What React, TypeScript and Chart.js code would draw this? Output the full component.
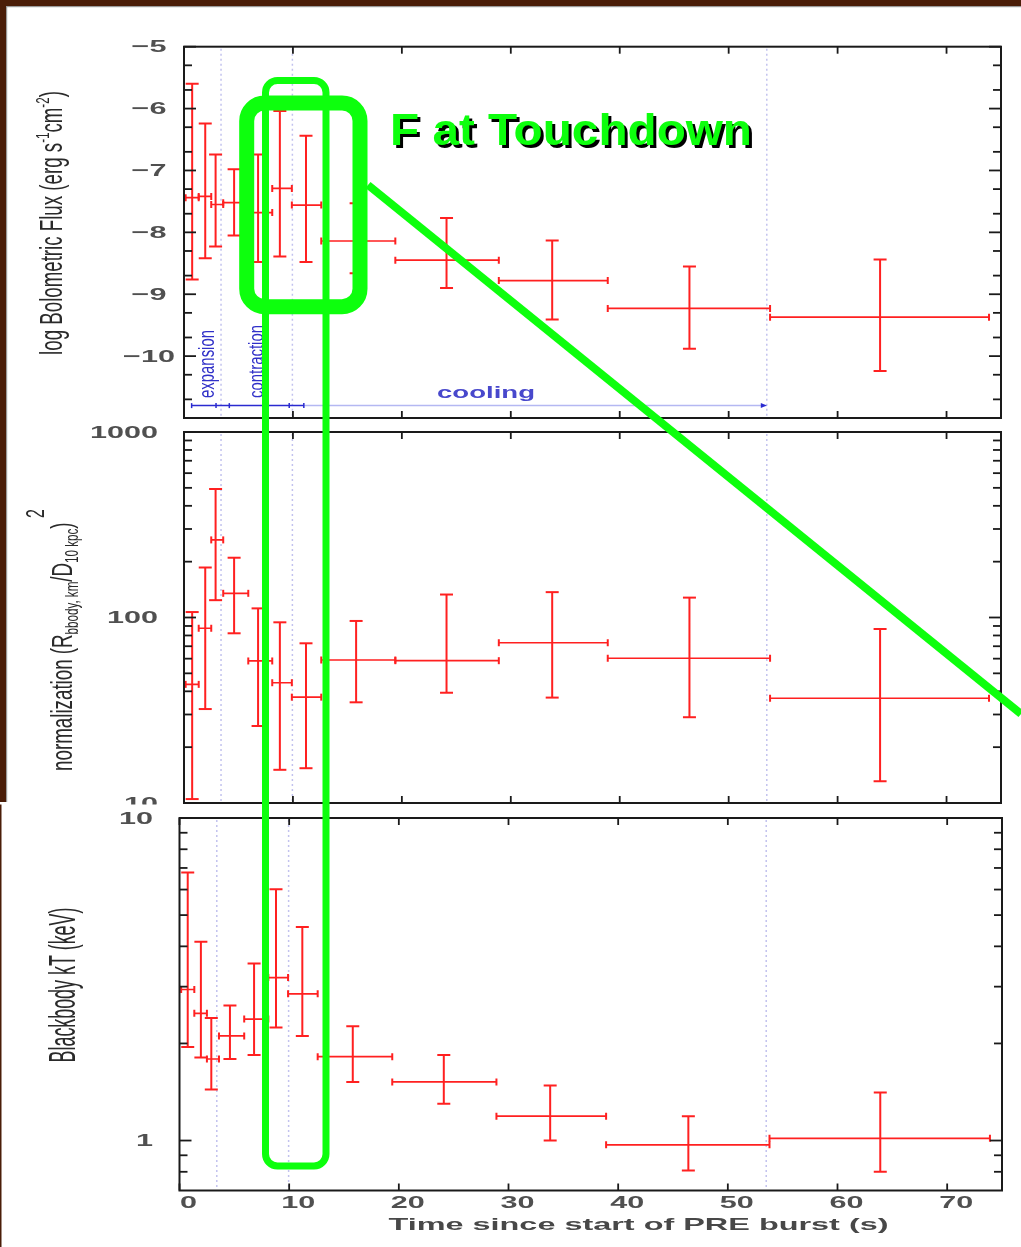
import React, { useEffect, useRef } from 'react';
import { Chart, registerables } from 'chart.js';

Chart.register(...registerables);

// ---------------- data ----------------
const timeMid = [0.75, 1.95, 2.9, 4.6, 6.8, 8.8, 11.2, 15.8, 24.1, 33.8, 46.4, 63.9];
const timeLo = [0.15, 1.35, 2.5, 3.6, 5.9, 8.1, 9.9, 12.6, 19.4, 28.9, 38.9, 53.8];
const timeHi = [1.35, 2.5, 3.6, 5.9, 8.1, 9.9, 12.6, 19.4, 28.9, 38.9, 53.8, 73.9];

const logFlux = [-7.44, -7.42, -7.55, -7.52, -7.68, -7.29, -7.56, -8.14, -8.45, -8.78, -9.23, -9.37];
const logFluxHigh = [-5.6, -6.24, -6.74, -6.98, -6.74, -6.04, -6.44, -7.53, -7.77, -8.13, -8.55, -8.44];
const logFluxLow = [-8.76, -8.42, -8.23, -8.05, -8.48, -8.39, -8.48, -8.66, -8.9, -9.41, -9.88, -10.24];

const norm = [43.6, 87.5, 262, 135, 58.3, 44.5, 37.2, 59, 58.5, 73.1, 60.3, 36.7];
const normHigh = [107, 186, 493, 210, 112, 94.2, 72.6, 95.8, 133, 137, 128, 86.7];
const normLow = [10.5, 32.1, 124, 82.2, 26.0, 15.1, 15.4, 34.9, 39.3, 37.0, 29.0, 13.1];

const kT = [2.94, 2.48, 1.79, 2.11, 2.38, 3.2, 2.85, 1.82, 1.52, 1.19, 0.97, 1.016];
const kTHigh = [6.78, 4.13, 2.4, 2.62, 3.54, 6.01, 4.59, 2.26, 1.84, 1.48, 1.19, 1.41];
const kTLow = [1.95, 1.81, 1.44, 1.79, 1.84, 2.24, 2.11, 1.52, 1.3, 1.0, 0.807, 0.8];

const phaseBoundaries = [3.4, 9.95, 53.5];
const phaseArrowTimes = [0.7, 2.94, 4.16, 9.66, 11.0, 53.5];
const phaseArrowLevel = -10.8;
const phaseLabels = ['expansion', 'contraction', 'cooling'];

const timeTicks = [0, 10, 20, 30, 40, 50, 60, 70];
const timeTickLabels = ['0', '10', '20', '30', '40', '50', '60', '70'];
const fluxTicks = [-5, -6, -7, -8, -9, -10];
const fluxTickLabels = ['\u22125', '\u22126', '\u22127', '\u22128', '\u22129', '\u221210'];
const normTicks = [10, 100, 1000];
const normTickLabels = ['10', '100', '1000'];
const kTTicks = [1, 10];
const kTTickLabels = ['1', '10'];

const xTitle = 'Time since start of PRE burst (s)';
const calloutText = 'F at Touchdown';

// ---------------- layout & style ----------------
const W = 1021;
const H = 1247;
const RED = '#ff2020';
const BROWN = '#4a1d08';
const GREEN = '#0dff0d';
const BLUE = '#2a2ad0';
const FAMILY = '"Liberation Sans", Arial, sans-serif';

type Seg = { t: string; k?: 'sup' | 'sub'; s?: number; dy?: number };

type PanelDef = {
  key: 'flux' | 'norm' | 'kT';
  area: { left: number; top: number; right: number; bottom: number };
  yType: 'linear' | 'logarithmic';
  yMin: number;
  yMax: number;
  value: number[];
  high: number[];
  low: number[];
  ticks: number[];
  tickLabels: string[];
  minor: number[];
  labelX: number;
  labelAlign: CanvasTextAlign;
  title: Seg[];
  titleBaseX: number;
  titleCenterY: number;
  titleLength: number;
  titleCap: number;
  xLabels: boolean;
};

const fluxMinor: number[] = [];
for (let m = -5; m >= -11; m--) {
  [Math.log10(0.5), Math.log10(0.2)].forEach((d) => {
    const v = m + d;
    if (v > -11) fluxMinor.push(v);
  });
}
const normMinor: number[] = [];
[10, 100].forEach((d) => {
  for (let k = 2; k <= 9; k++) normMinor.push(k * d);
});
const kTMinor: number[] = [0.8, 0.9];
for (let k = 2; k <= 9; k++) kTMinor.push(k);

const PANELS: PanelDef[] = [
  {
    key: 'flux',
    area: { left: 184, top: 46.7, right: 1001, bottom: 418 },
    yType: 'linear',
    yMin: -11,
    yMax: -5,
    value: logFlux,
    high: logFluxHigh,
    low: logFluxLow,
    ticks: fluxTicks,
    tickLabels: fluxTickLabels,
    minor: fluxMinor,
    labelX: 149,
    labelAlign: 'center',
    title: [{ t: 'log Bolometric Flux (erg s' }, { t: '-1', k: 'sup' }, { t: 'cm' }, { t: '-2', k: 'sup' }, { t: ')' }],
    titleBaseX: 62,
    titleCenterY: 223,
    titleLength: 264,
    titleCap: 22,
    xLabels: false,
  },
  {
    key: 'norm',
    area: { left: 184, top: 432, right: 1001, bottom: 803 },
    yType: 'logarithmic',
    yMin: 10,
    yMax: 1000,
    value: norm,
    high: normHigh,
    low: normLow,
    ticks: normTicks,
    tickLabels: normTickLabels,
    minor: normMinor,
    labelX: 158,
    labelAlign: 'right',
    title: [
      { t: 'normalization (R' },
      { t: 'bbody, km', k: 'sub' },
      { t: '/D' },
      { t: '10 kpc', k: 'sub' },
      { t: ')' },
      { t: ' 2', k: 'sup', s: 0.85, dy: -0.95 },
    ],
    titleBaseX: 72,
    titleCenterY: 640,
    titleLength: 262,
    titleCap: 21,
    xLabels: false,
  },
  {
    key: 'kT',
    area: { left: 179.5, top: 818, right: 1002, bottom: 1190.5 },
    yType: 'logarithmic',
    yMin: 0.7,
    yMax: 10,
    value: kT,
    high: kTHigh,
    low: kTLow,
    ticks: kTTicks,
    tickLabels: kTTickLabels,
    minor: kTMinor,
    labelX: 153,
    labelAlign: 'right',
    title: [{ t: 'Blackbody kT (keV)' }],
    titleBaseX: 75,
    titleCenterY: 985,
    titleLength: 155,
    titleCap: 26,
    xLabels: true,
  },
];

const OVERLAY = {
  tallBox: { x1: 265.5, y1: 80.5, x2: 326, y2: 1166, r: 12, w: 7 },
  thickBox: { x1: 246.7, y1: 103, x2: 360, y2: 306.7, r: 18, w: 15 },
  line: { x1: 368, y1: 185, x2: 1021, y2: 714, w: 8 },
  label: { x: 390, y: 145, width: 362, size: 45 },
};

const TEXT_POS = {
  tickSize: 17,
  tickSx: 1.8,
  tickColor: '#505050',
  xLabelY: 1203,
  xLabelDx: 9,
  xTitle: { cx: 638.5, y: 1230, size: 17, width: 500 },
  expansion: { x: 214, cy: 364, len: 68, sx: 1.45 },
  contraction: { x: 263, cy: 361.5, len: 73, sx: 1.35 },
  cooling: { cx: 486, y: 398, size: 17, width: 98 },
};

// ---------------- text helpers ----------------
function drawStretched(
  ctx: CanvasRenderingContext2D,
  text: string,
  x: number,
  y: number,
  font: string,
  sx: number,
  color: string,
  align: CanvasTextAlign,
  baseline: CanvasTextBaseline
) {
  ctx.save();
  ctx.font = font;
  ctx.fillStyle = color;
  ctx.textAlign = align;
  ctx.textBaseline = baseline;
  ctx.translate(x, y);
  ctx.scale(sx, 1);
  ctx.fillText(text, 0, 0);
  ctx.restore();
}

function fitSx(ctx: CanvasRenderingContext2D, text: string, font: string, width: number) {
  ctx.save();
  ctx.font = font;
  const w = ctx.measureText(text).width;
  ctx.restore();
  return width / w;
}

function drawRotatedRich(
  ctx: CanvasRenderingContext2D,
  segs: Seg[],
  baseX: number,
  centerY: number,
  length: number,
  cap: number | null,
  sxFixed: number | null,
  color: string
) {
  ctx.save();
  const scaleOf = (g: Seg) => (g.s !== undefined ? g.s : g.k ? 0.62 : 1);
  const measure = (size: number) =>
    segs.reduce((acc, g) => {
      ctx.font = `${size * scaleOf(g)}px ${FAMILY}`;
      return acc + ctx.measureText(g.t).width;
    }, 0);
  const size = (20 * length) / measure(20);
  const total = measure(size);
  const sx = sxFixed !== null ? sxFixed : (cap as number) / (0.716 * size);
  ctx.translate(baseX, centerY);
  ctx.scale(sx, 1);
  ctx.rotate(-Math.PI / 2);
  ctx.fillStyle = color;
  ctx.textAlign = 'left';
  ctx.textBaseline = 'alphabetic';
  let x = -total / 2;
  for (const g of segs) {
    ctx.font = `${size * scaleOf(g)}px ${FAMILY}`;
    const dy = g.dy !== undefined ? g.dy * size : g.k === 'sup' ? -0.42 * size : g.k === 'sub' ? 0.2 * size : 0;
    ctx.fillText(g.t, x, dy);
    x += ctx.measureText(g.t).width;
  }
  ctx.restore();
}

function line(ctx: CanvasRenderingContext2D, x1: number, y1: number, x2: number, y2: number) {
  ctx.beginPath();
  ctx.moveTo(x1, y1);
  ctx.lineTo(x2, y2);
  ctx.stroke();
}

// ---------------- drawing plugins ----------------
function drawPhaseAnnotations(chart: any) {
  const ctx: CanvasRenderingContext2D = chart.ctx;
  const xs = chart.scales.x;
  const ys = chart.scales.y;
  const py = ys.getPixelForValue(phaseArrowLevel);
  const px = phaseArrowTimes.map((t) => xs.getPixelForValue(t));
  ctx.save();
  ctx.lineWidth = 1.5;
  ctx.strokeStyle = '#b4b8f2';
  line(ctx, px[4], py, px[5], py);
  ctx.strokeStyle = BLUE;
  line(ctx, px[0], py, px[4], py);
  ctx.lineWidth = 1.5;
  for (let i = 0; i < 5; i++) line(ctx, px[i], py - 2.5, px[i], py + 2.5);
  ctx.fillStyle = BLUE;
  ctx.beginPath();
  ctx.moveTo(px[5] - 6, py - 2.5);
  ctx.lineTo(px[5], py);
  ctx.lineTo(px[5] - 6, py + 2.5);
  ctx.closePath();
  ctx.fill();
  ctx.restore();

  const e = TEXT_POS.expansion;
  drawRotatedRich(ctx, [{ t: phaseLabels[0] }], e.x, e.cy, e.len, null, e.sx, '#3030c8');
  const c = TEXT_POS.contraction;
  drawRotatedRich(ctx, [{ t: phaseLabels[1] }], c.x, c.cy, c.len, null, c.sx, '#3030c8');
  const co = TEXT_POS.cooling;
  const f = `bold ${co.size}px ${FAMILY}`;
  drawStretched(ctx, phaseLabels[2], co.cx, co.y, f, fitSx(ctx, phaseLabels[2], f, co.width), '#4848cc', 'center', 'alphabetic');
}

function drawOverlay(ctx: CanvasRenderingContext2D) {
  ctx.save();
  ctx.strokeStyle = GREEN;
  const tb = OVERLAY.tallBox;
  ctx.lineWidth = tb.w;
  ctx.beginPath();
  (ctx as any).roundRect(tb.x1, tb.y1, tb.x2 - tb.x1, tb.y2 - tb.y1, tb.r);
  ctx.stroke();
  const kb = OVERLAY.thickBox;
  ctx.lineWidth = kb.w;
  ctx.beginPath();
  (ctx as any).roundRect(kb.x1, kb.y1, kb.x2 - kb.x1, kb.y2 - kb.y1, kb.r);
  ctx.stroke();
  const ln = OVERLAY.line;
  ctx.lineWidth = ln.w;
  line(ctx, ln.x1, ln.y1, ln.x2, ln.y2);
  ctx.restore();

  const lb = OVERLAY.label;
  const font = `bold ${lb.size}px ${FAMILY}`;
  const sx = fitSx(ctx, calloutText, font, lb.width);
  drawStretched(ctx, calloutText, lb.x + 3, lb.y + 3, font, sx, '#000000', 'left', 'alphabetic');
  drawStretched(ctx, calloutText, lb.x, lb.y, font, sx, GREEN, 'left', 'alphabetic');
}

function makePlugin(p: PanelDef) {
  return {
    id: 'decor_' + p.key,
    beforeDraw(chart: any) {
      const ctx: CanvasRenderingContext2D = chart.ctx;
      const { top, bottom } = chart.chartArea;
      const xs = chart.scales.x;
      ctx.save();
      if (p.key === 'flux') {
        ctx.fillStyle = '#ffffff';
        ctx.fillRect(0, 0, W, H);
        ctx.fillStyle = BROWN;
        ctx.fillRect(0, 0, W, 6);
        ctx.fillRect(0, 0, 6, 802);
        ctx.fillStyle = '#9a9a9a';
        ctx.fillRect(6, 6, W - 6, 1.2);
        ctx.fillRect(6, 6, 1.2, 796);
      }
      if (p.key === 'kT') {
        ctx.fillStyle = '#ffffff';
        ctx.fillRect(0, 804.5, W, H - 804.5);
        ctx.fillStyle = BROWN;
        ctx.fillRect(0, 804.5, 1.5, H - 804.5);
      }
      ctx.strokeStyle = '#c2c2ee';
      ctx.lineWidth = 1.5;
      ctx.setLineDash([2, 3]);
      for (const t of phaseBoundaries) {
        const px = xs.getPixelForValue(t);
        line(ctx, px, top + 2, px, bottom - 2);
      }
      ctx.restore();
    },
    afterDraw(chart: any) {
      const ctx: CanvasRenderingContext2D = chart.ctx;
      const { left, right, top, bottom } = chart.chartArea;
      const xs = chart.scales.x;
      const ys = chart.scales.y;

      if (p.key === 'flux') drawPhaseAnnotations(chart);

      ctx.save();
      ctx.strokeStyle = '#1a1a1a';
      ctx.lineWidth = 2;
      ctx.strokeRect(left, top, right - left, bottom - top);
      ctx.lineWidth = 1.8;
      for (const v of p.ticks) {
        const py = ys.getPixelForValue(v);
        line(ctx, left, py, left + 12, py);
        line(ctx, right, py, right - 12, py);
      }
      for (const v of p.minor) {
        const py = ys.getPixelForValue(v);
        line(ctx, left, py, left + 8, py);
        line(ctx, right, py, right - 8, py);
      }
      for (const t of timeTicks) {
        const px = xs.getPixelForValue(t);
        line(ctx, px, bottom, px, bottom - 7);
        line(ctx, px, top, px, top + 7);
      }
      ctx.restore();

      const tickFont = `bold ${TEXT_POS.tickSize}px ${FAMILY}`;
      p.ticks.forEach((v, i) => {
        const py = ys.getPixelForValue(v);
        drawStretched(ctx, p.tickLabels[i], p.labelX, py + 1, tickFont, TEXT_POS.tickSx, TEXT_POS.tickColor, p.labelAlign, 'middle');
      });

      if (p.xLabels) {
        timeTicks.forEach((t, i) => {
          const px = xs.getPixelForValue(t);
          drawStretched(ctx, timeTickLabels[i], px + TEXT_POS.xLabelDx, TEXT_POS.xLabelY, tickFont, TEXT_POS.tickSx, TEXT_POS.tickColor, 'center', 'middle');
        });
        const xt = TEXT_POS.xTitle;
        const f = `bold ${xt.size}px ${FAMILY}`;
        drawStretched(ctx, xTitle, xt.cx, xt.y, f, fitSx(ctx, xTitle, f, xt.width), '#484848', 'center', 'alphabetic');
      }

      drawRotatedRich(ctx, p.title, p.titleBaseX, p.titleCenterY, p.titleLength, p.titleCap, null, '#2a2a2a');

      if (p.key === 'kT') drawOverlay(ctx);
    },
  };
}

function makeConfig(p: PanelDef): any {
  const vert: any[] = [];
  const horiz: any[] = [];
  timeMid.forEach((t, i) => {
    vert.push({ x: t, y: p.low[i] }, { x: t, y: p.high[i] }, { x: t, y: null });
    horiz.push({ x: timeLo[i], y: p.value[i] }, { x: timeHi[i], y: p.value[i] }, { x: timeHi[i], y: null });
  });
  return {
    type: 'line',
    data: {
      datasets: [
        {
          label: 'y error',
          data: vert,
          borderColor: RED,
          borderWidth: 2,
          pointStyle: 'line',
          pointRadius: 6.5,
          pointBorderWidth: 2,
          pointBorderColor: RED,
          pointBackgroundColor: RED,
          spanGaps: false,
          fill: false,
          tension: 0,
          clip: 8,
        },
        {
          label: 'x error',
          data: horiz,
          borderColor: RED,
          borderWidth: 1.7,
          pointStyle: 'line',
          pointRotation: 90,
          pointRadius: 3.5,
          pointBorderWidth: 2,
          pointBorderColor: RED,
          pointBackgroundColor: RED,
          spanGaps: false,
          fill: false,
          tension: 0,
          clip: 8,
        },
      ],
    },
    options: {
      animation: false,
      responsive: false,
      devicePixelRatio: 1,
      events: [],
      layout: {
        padding: {
          left: p.area.left,
          top: p.area.top,
          right: W - p.area.right,
          bottom: H - p.area.bottom,
        },
      },
      plugins: { legend: { display: false }, tooltip: { enabled: false }, title: { display: false } },
      scales: {
        x: { type: 'linear', min: 0, max: 75, display: false },
        y: { type: p.yType, min: p.yMin, max: p.yMax, display: false },
      },
    },
    plugins: [makePlugin(p)],
  };
}

export default function App() {
  const r1 = useRef<HTMLCanvasElement>(null);
  const r2 = useRef<HTMLCanvasElement>(null);
  const r3 = useRef<HTMLCanvasElement>(null);

  useEffect(() => {
    document.body.style.margin = '0';
    document.body.style.overflow = 'hidden';
    const refs = [r1, r2, r3];
    const charts = PANELS.map((p, i) => new Chart(refs[i].current as HTMLCanvasElement, makeConfig(p)));
    return () => charts.forEach((c) => c.destroy());
  }, []);

  const cs: React.CSSProperties = { position: 'absolute', left: 0, top: 0, width: W, height: H, display: 'block' };
  return (
    <div style={{ position: 'relative', width: W, height: H, overflow: 'hidden', background: '#ffffff' }}>
      <canvas ref={r1} width={W} height={H} style={cs} />
      <canvas ref={r2} width={W} height={H} style={cs} />
      <canvas ref={r3} width={W} height={H} style={cs} />
    </div>
  );
}
